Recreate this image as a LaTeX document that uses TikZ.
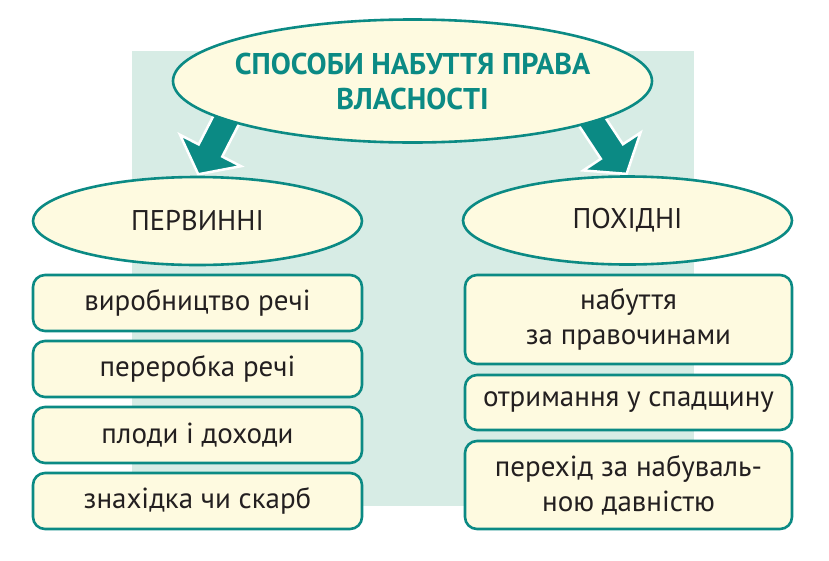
\documentclass[tikz,border=0pt]{standalone}
\usepackage{fontspec}
\setmainfont{PT Sans}
\usetikzlibrary{shapes.geometric,shapes.arrows}
\definecolor{sea}{HTML}{0B8A84}
\definecolor{mist}{HTML}{D7ECE5}
\definecolor{cream}{HTML}{FEFAE0}
\definecolor{ink}{HTML}{231F20}
\pgfdeclarelayer{back}
\pgfdeclarelayer{mid}
\pgfsetlayers{back,mid,main}

\begin{document}
\begin{tikzpicture}
[x=1pt,y=-1pt,%
  oval/.style={shape=ellipse,draw=sea,fill=cream,line width=2.6pt,inner sep=0pt,%
    minimum width=329pt,minimum height=88pt,text=ink,font=\fontsize{28.5}{35}\selectfont},%
  way/.style={shape=rectangle,rounded corners=12pt,draw=sea,fill=cream,line width=2.6pt,%
    minimum height=56pt,align=center,text=ink,font=\fontsize{29}{35}\selectfont},%
  fatarrow/.style={shape=single arrow,fill=sea,draw=white,line width=2.5pt,inner sep=12pt,%
    single arrow head extend=21pt,single arrow tip angle=104,minimum height=88pt,%
    sloped,allow upside down,anchor=tip,pos=1}]
\useasboundingbox (0,0) rectangle (829,560);

\node[oval,minimum width=479pt,minimum height=123pt,inner xsep=-20pt,align=center,
  text=sea,font=\fontsize{30}{35}\selectfont\bfseries] (title) at (412.5,81)
  {СПОСОБИ НАБУТТЯ ПРАВА\\ВЛАСНОСТІ};
\node[oval] (prim) at (197.5,221) {ПЕРВИННІ};
\node[oval] (deriv) at (627.5,220.5) {ПОХІДНІ};

% first-hand ways
\node[way,minimum width=329pt] (p1) at (197.5,303) {виробництво речі};
\node[way,minimum width=329pt] (p2) at (197.5,369) {переробка речі};
\node[way,minimum width=329pt] (p3) at (197.5,435) {плоди і доходи};
\node[way,minimum width=329pt] (p4) at (197.5,501) {знахідка чи скарб};

% derived ways
\node[way,minimum width=327pt,minimum height=89pt] (d1) at (628.5,319.5)
  {набуття\\за правочинами};
\node[way,minimum width=327pt,minimum height=55pt] (d2) at (628.5,402.5)
  {отримання у спадщину};
\node[way,minimum width=327pt,minimum height=88pt] (d3) at (628.5,485)
  {перехід за набуваль-\\ною давністю};

\begin{pgfonlayer}{back}
  \fill[mist] (132,51) rectangle (694,506);
\end{pgfonlayer}
\begin{pgfonlayer}{mid}
  \path (title.192) -- node[fatarrow] {} (prim.north);
  \path (title.347.5) -- node[fatarrow] {} (deriv.north);
\end{pgfonlayer}
\end{tikzpicture}
\end{document}
